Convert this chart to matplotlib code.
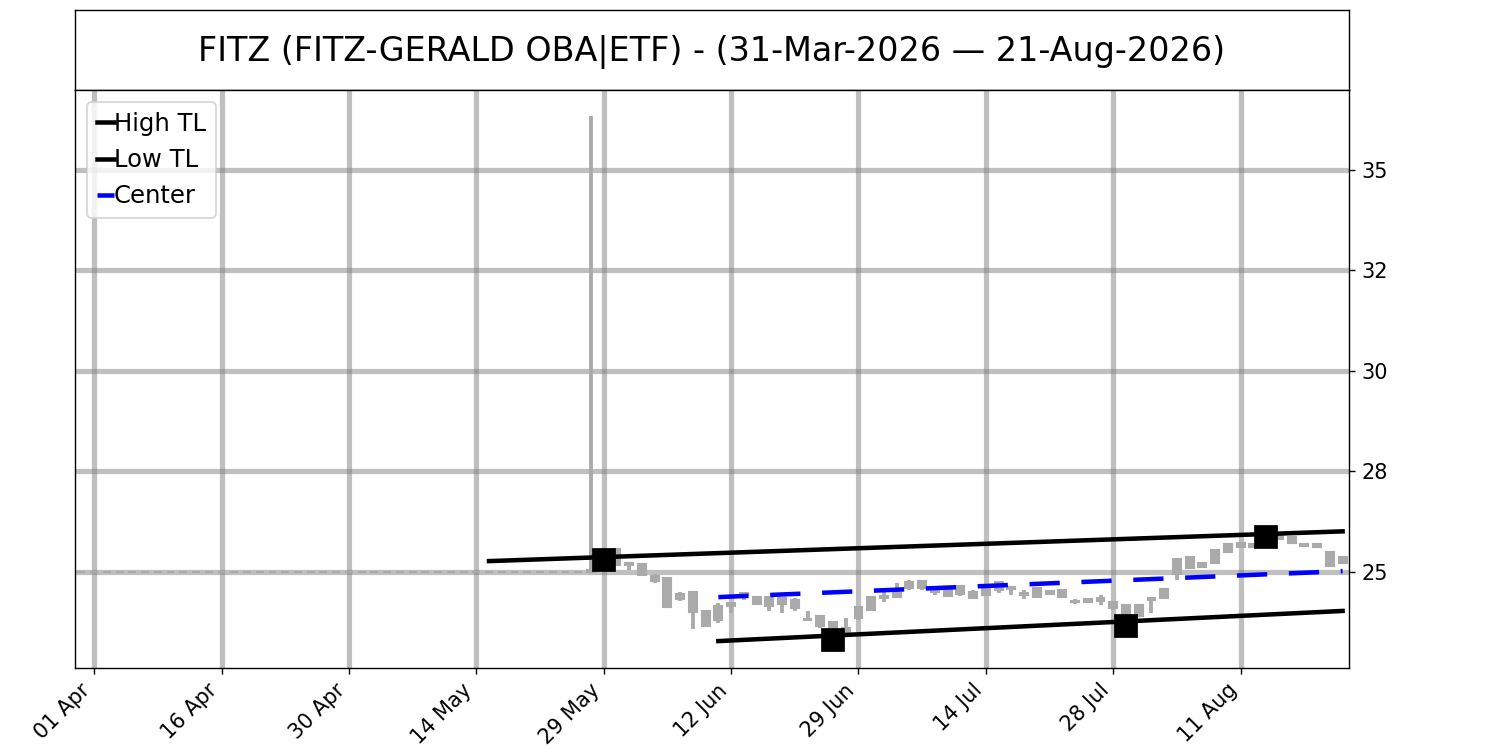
import numpy as np
import pandas as pd
import matplotlib
matplotlib.use("Agg")
import matplotlib.pyplot as plt
from matplotlib.ticker import FormatStrFormatter

# trading days 31-Mar-2026 .. 21-Aug-2026 (US market holidays removed)
holidays = ["2026-04-03", "2026-05-25", "2026-06-19", "2026-07-03"]
dates = pd.bdate_range("2026-03-31", "2026-08-21")
dates = dates[~dates.isin(pd.to_datetime(holidays))]

# flat, untraded stretch before the listing spike
flat_n = 40
# candle data from the spike onwards: low, body bottom, body top, high
low_v = [25.0, 25.15, 25.17, 25.05, 24.93, 24.73, 24.13, 24.28, 23.58, 23.66,
         23.73, 23.98, 24.30, 24.18, 24.03, 23.98, 24.03, 23.80, 23.60, 23.50,
         23.50, 23.80, 24.05, 24.25, 24.38, 24.55, 24.55, 24.43, 24.38, 24.40,
         24.33, 24.40, 24.48, 24.43, 24.33, 24.35, 24.43, 24.35, 24.20, 24.23,
         24.18, 24.05, 23.93, 23.88, 23.98, 24.33, 24.80, 25.10, 25.10, 25.22,
         25.47, 25.60, 25.60, 25.62, 25.80, 25.70, 25.62, 25.60, 25.12, 25.20]
body_lo = [25.0, 25.20, 25.17, 25.18, 24.93, 24.78, 24.13, 24.33, 24.00, 23.66,
           23.80, 24.15, 24.42, 24.20, 24.15, 24.20, 24.10, 23.80, 23.65, 23.55,
           23.50, 23.85, 24.05, 24.35, 24.38, 24.60, 24.60, 24.50, 24.40, 24.45,
           24.35, 24.42, 24.55, 24.58, 24.42, 24.37, 24.45, 24.37, 24.25, 24.25,
           24.28, 24.10, 23.95, 23.90, 24.30, 24.35, 24.95, 25.10, 25.12, 25.22,
           25.50, 25.62, 25.62, 25.65, 25.82, 25.72, 25.64, 25.62, 25.15, 25.22]
body_hi = [25.05, 25.50, 25.57, 25.22, 25.20, 24.90, 24.85, 24.45, 24.50, 24.03,
           24.15, 24.23, 24.47, 24.38, 24.38, 24.35, 24.30, 23.84, 23.90, 23.75,
           23.60, 24.13, 24.38, 24.40, 24.47, 24.75, 24.78, 24.53, 24.60, 24.65,
           24.50, 24.62, 24.75, 24.63, 24.47, 24.60, 24.52, 24.55, 24.28, 24.33,
           24.35, 24.25, 24.18, 24.18, 24.35, 24.58, 25.32, 25.37, 25.22, 25.55,
           25.70, 25.72, 25.70, 25.80, 25.90, 25.87, 25.70, 25.70, 25.50, 25.37]
high_v = [36.34, 25.55, 25.57, 25.22, 25.20, 24.95, 24.85, 24.50, 24.50, 24.03,
          24.23, 24.23, 24.50, 24.38, 24.38, 24.35, 24.35, 24.03, 23.90, 23.75,
          23.85, 24.13, 24.38, 24.50, 24.73, 24.80, 24.80, 24.60, 24.63, 24.68,
          24.55, 24.63, 24.75, 24.63, 24.55, 24.60, 24.53, 24.55, 24.33, 24.35,
          24.43, 24.25, 24.18, 24.18, 24.35, 24.58, 25.32, 25.37, 25.25, 25.55,
          25.72, 25.75, 25.72, 25.86, 25.92, 25.87, 25.72, 25.72, 25.50, 25.37]

low_v = [25.0] * flat_n + low_v
body_lo = [25.0] * flat_n + body_lo
body_hi = [25.0] * flat_n + body_hi
high_v = [25.0] * flat_n + high_v

# pivots
pivot_hi_x = [41, 93]
pivot_hi_y = [25.30, 25.86]
pivot_lo_x = [59, 82]
pivot_lo_y = [23.31, 23.66]

# trend line end points
high_tl_x = [32, 99]
high_tl_y = [25.27, 26.01]
low_tl_x = [50, 99]
low_tl_y = [23.28, 24.03]

x = np.arange(len(dates))
cndl = '#aaaaaa'

fig = plt.figure(figsize=(12, 6), dpi=125)
tax = fig.add_axes([0.05, 0.88, 0.8493, 0.1067])
tax.set_xticks([])
tax.set_yticks([])
tax.text(0.5, 0.48, 'FITZ (FITZ-GERALD OBA|ETF) - (31-Mar-2026 \u2014 21-Aug-2026)',
         ha='center', va='center', fontsize=19.25, transform=tax.transAxes)

ax = fig.add_axes([0.05, 0.1093, 0.8493, 0.7707])
ax.set_axisbelow(True)
ax.grid(True, color='gray', alpha=0.5, lw=3)

ax.vlines(x, low_v, high_v, color=cndl, lw=2.2, zorder=2)
ax.bar(x, np.array(body_hi) - np.array(body_lo), bottom=body_lo, width=0.62,
       color=cndl, edgecolor=cndl, lw=1.2, zorder=2)

ax.plot(high_tl_x, high_tl_y, color='black', lw=2.6, label='High TL', zorder=3)
ax.plot(low_tl_x, low_tl_y, color='black', lw=2.6, label='Low TL', zorder=3)
cx = np.array(low_tl_x)
hi_at = np.interp(cx, high_tl_x, high_tl_y)
cy = (hi_at + np.array(low_tl_y)) / 2
ax.plot(cx, cy, color='blue', lw=2.6, dashes=(6.7, 4.8), label='Center', zorder=3)

ax.plot(pivot_hi_x, pivot_hi_y, 's', color='black', ms=12.5, zorder=4)
ax.plot(pivot_lo_x, pivot_lo_y, 's', color='black', ms=12.5, zorder=4)

ax.set_xlim(-0.5, len(dates) - 0.5)
ax.set_ylim(22.61, 36.99)
ax.yaxis.tick_right()
ax.set_yticks([25, 27.5, 30, 32.5, 35])
ax.yaxis.set_major_formatter(FormatStrFormatter('%.0f'))
tick_pos = list(range(1, len(dates), 10))
ax.set_xticks(tick_pos)
ax.set_xticklabels([dates[i].strftime('%d %b') for i in tick_pos],
                   rotation=45, ha='right')
ax.tick_params(labelsize=12)

ax.legend(loc='upper left', fontsize=14, handlelength=0.7, handletextpad=0)

fig.savefig('out.png', dpi=125)
